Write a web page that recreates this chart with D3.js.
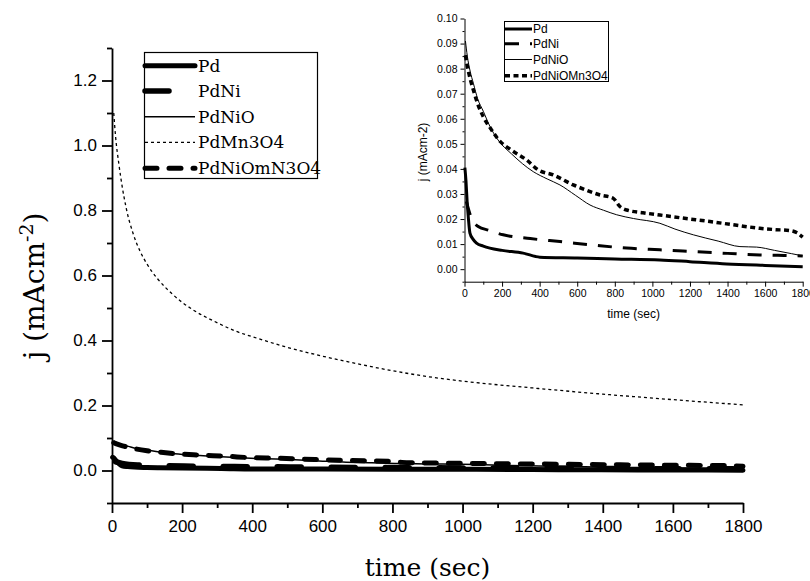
<!DOCTYPE html>
<html>
<head>
<meta charset="utf-8">
<script src="https://cdn.jsdelivr.net/npm/d3@7"></script>
<style>
  body { margin: 0; background: #fff; }
  svg { display: block; }
  .tick text { fill: #000; }
</style>
</head>
<body>
<div id="chart"></div>
<script>
// values
var mainLabels = ["Pd", "PdNi", "PdNiO", "PdMn3O4", "PdNiOmN3O4"];
var insetLabels = ["Pd", "PdNi", "PdNiO", "PdNiOMn3O4"];

var pdTime = [2, 8, 14, 20, 29, 45, 64, 100, 135, 200, 312, 401, 600, 800, 1040, 1200, 1395, 1600, 1800];
var pdJ = [0.0405, 0.035, 0.027, 0.021, 0.0144, 0.012, 0.0104, 0.0092, 0.0084, 0.0075, 0.0064, 0.0048, 0.0045, 0.0041, 0.0037, 0.003, 0.0021, 0.0015, 0.001];

var pdNiTime = [10, 29, 73, 130, 206, 350, 508, 700, 863, 1040, 1217, 1400, 1572, 1700, 1800];
var pdNiJ = [0.027, 0.022, 0.017, 0.0155, 0.0137, 0.0122, 0.011, 0.0095, 0.0084, 0.0077, 0.007, 0.0063, 0.0057, 0.0055, 0.0053];

var pdNiOTime = [5, 15, 30, 47, 70, 100, 135, 179, 250, 366, 440, 508, 590, 668, 740, 810, 900, 1040, 1120, 1218, 1350, 1466, 1555, 1650, 1740, 1800];
var pdNiOJ = [0.091, 0.085, 0.079, 0.0742, 0.068, 0.063, 0.057, 0.0515, 0.046, 0.0389, 0.036, 0.0336, 0.0295, 0.0256, 0.0235, 0.0217, 0.0202, 0.0183, 0.016, 0.0137, 0.0112, 0.009, 0.0088, 0.0075, 0.0062, 0.0053];

var pdNiOMnTime = [5, 15, 30, 47, 70, 100, 140, 182, 250, 330, 392, 472, 579, 650, 721, 791, 827, 863, 950, 1040, 1180, 1306, 1450, 1572, 1650, 1732, 1770, 1800];
var pdNiOMnJ = [0.0854, 0.081, 0.076, 0.0715, 0.066, 0.0608, 0.056, 0.0516, 0.0475, 0.0436, 0.0396, 0.0376, 0.0336, 0.0315, 0.0296, 0.0283, 0.025, 0.0236, 0.0225, 0.0216, 0.0202, 0.019, 0.0175, 0.0163, 0.0158, 0.0154, 0.0145, 0.0128];

var pdMnTime = [5, 10, 20, 40, 60, 80, 100, 130, 175, 230, 290, 350, 420, 490, 580, 680, 800, 900, 1000, 1200, 1400, 1600, 1800];
var pdMnJ = [1.10, 1.03, 0.94, 0.81, 0.73, 0.675, 0.635, 0.59, 0.54, 0.495, 0.46, 0.43, 0.405, 0.382, 0.357, 0.333, 0.307, 0.289, 0.275, 0.254, 0.235, 0.218, 0.202];

var mainXTicks = [0, 200, 400, 600, 800, 1000, 1200, 1400, 1600, 1800];
var mainYTicks = [0.0, 0.2, 0.4, 0.6, 0.8, 1.0, 1.2];
var insetXTicks = [0, 200, 400, 600, 800, 1000, 1200, 1400, 1600, 1800];
var insetYTicks = [0.00, 0.01, 0.02, 0.03, 0.04, 0.05, 0.06, 0.07, 0.08, 0.09, 0.10];

function zipSeries(times, values) {
  return times.map(function (t, i) {
    return { t: t, j: values[i] };
  });
}

var W = 810, H = 581;
var svg = d3.select("#chart").append("svg").attr("width", W).attr("height", H);

// ---- main plot ----
var mainStyles = [
  { width: 5, dash: null, cap: "round" },
  { width: 5.5, dash: "24,30", cap: "round" },
  { width: 1.5, dash: null, cap: "butt" },
  { width: 1.3, dash: "3,3", cap: "butt" },
  { width: 5, dash: "12,12", cap: "round" },
];
var mainData = [
  zipSeries(pdTime, pdJ),
  zipSeries(pdNiTime, pdNiJ),
  zipSeries(pdNiOTime, pdNiOJ),
  zipSeries(pdMnTime, pdMnJ),
  zipSeries(pdNiOMnTime, pdNiOMnJ),
];

var x = d3.scaleLinear().domain([0, 1800]).range([112, 743]);
var y = d3.scaleLinear().domain([-0.1, 1.3]).range([503, 48]);

var line = d3
  .line()
  .curve(d3.curveMonotoneX)
  .x(function (d) { return x(d.t); })
  .y(function (d) { return y(d.j); });

// minor ticks first, then labelled ones
svg.append("g")
  .attr("transform", "translate(0,503)")
  .call(d3.axisBottom(x).tickValues(d3.range(100, 1800, 200)).tickSize(5).tickFormat(""))
  .call(function (g) { g.select(".domain").remove(); })
  .selectAll("line").attr("stroke-width", 1.8);
var mainXAxis = svg.append("g")
  .attr("transform", "translate(0,503)")
  .call(d3.axisBottom(x).tickValues(mainXTicks).tickSize(10).tickPadding(7).tickSizeOuter(0).tickFormat(d3.format("d")));
mainXAxis.selectAll("text").attr("font-family", "Liberation Sans, Arial").attr("font-size", 17);

svg.append("g")
  .attr("transform", "translate(112,0)")
  .call(d3.axisLeft(y).tickValues([-0.1, 0.1, 0.3, 0.5, 0.7, 0.9, 1.1, 1.3]).tickSize(5).tickFormat(""))
  .call(function (g) { g.select(".domain").remove(); })
  .selectAll("line").attr("stroke-width", 1.8);
var mainYAxis = svg.append("g")
  .attr("transform", "translate(112,0)")
  .call(d3.axisLeft(y).tickValues(mainYTicks).tickSize(10).tickPadding(5).tickSizeOuter(0).tickFormat(d3.format(".1f")));
mainYAxis.selectAll("text").attr("font-family", "Liberation Sans, Arial").attr("font-size", 17);

[mainXAxis, mainYAxis].forEach(function (g) {
  g.select(".domain").attr("stroke-width", 1.8);
  g.selectAll(".tick line").attr("stroke-width", 1.8);
});

for (var i = 0; i < mainData.length; i++) {
  var st = mainStyles[i];
  svg.append("path")
    .datum(mainData[i])
    .attr("d", line)
    .attr("fill", "none")
    .attr("stroke", "#000")
    .attr("stroke-width", st.width)
    .attr("stroke-dasharray", st.dash)
    .attr("stroke-linecap", st.cap)
    .attr("stroke-linejoin", "round");
}

// axis titles
svg.append("text")
  .attr("x", 427.5)
  .attr("y", 576)
  .attr("text-anchor", "middle")
  .attr("font-family", "DejaVu Serif, serif")
  .attr("font-size", 25)
  .text("time (sec)");

var yTitle = svg.append("text")
  .attr("transform", "translate(44,286) rotate(-90)")
  .attr("text-anchor", "middle")
  .attr("font-family", "DejaVu Serif, serif")
  .attr("font-size", 28);
yTitle.append("tspan").text("j (mAcm");
yTitle.append("tspan").attr("font-size", 19).attr("dy", -11).text("-2");
yTitle.append("tspan").attr("dy", 11).text(")");

// main legend
var legend = svg.append("g");
legend.append("rect")
  .attr("x", 144.5).attr("y", 52.5).attr("width", 173).attr("height", 126)
  .attr("fill", "#fff").attr("stroke", "#000").attr("stroke-width", 1.2);
var legendRows = [65.7, 91, 116.7, 142.3, 168.3];
mainLabels.forEach(function (name, i) {
  var st = mainStyles[i];
  legend.append("line")
    .attr("x1", 145).attr("x2", 195)
    .attr("y1", legendRows[i]).attr("y2", legendRows[i])
    .attr("stroke", "#000")
    .attr("stroke-width", st.width)
    .attr("stroke-dasharray", st.dash)
    .attr("stroke-linecap", st.cap);
  legend.append("text")
    .attr("x", 198)
    .attr("y", legendRows[i] + 6)
    .attr("font-family", "DejaVu Serif, serif")
    .attr("font-size", 17)
    .text(name);
});

// ---- inset ----
var insetStyles = [
  { width: 3, dash: null },
  { width: 3, dash: "14,11" },
  { width: 1, dash: null },
  { width: 3.5, dash: "5,3.5" },
];
var insetData = [
  zipSeries(pdTime, pdJ),
  zipSeries(pdNiTime, pdNiJ),
  zipSeries(pdNiOTime, pdNiOJ),
  zipSeries(pdNiOMnTime, pdNiOMnJ),
];

var ix = d3.scaleLinear().domain([0, 1800]).range([464.5, 802.7]);
var iy = d3.scaleLinear().domain([-0.005, 0.10]).range([281.7, 18.5]);
var iline = d3
  .line()
  .curve(d3.curveMonotoneX)
  .x(function (d) { return ix(d.t); })
  .y(function (d) { return iy(d.j); });

svg.append("g")
  .attr("transform", "translate(0,281.7)")
  .call(d3.axisBottom(ix).tickValues(d3.range(100, 1800, 200)).tickSize(3).tickFormat(""))
  .call(function (g) { g.select(".domain").remove(); });
var insetXAxis = svg.append("g")
  .attr("transform", "translate(0,281.7)")
  .call(d3.axisBottom(ix).tickValues(insetXTicks).tickSize(5).tickPadding(3).tickSizeOuter(0).tickFormat(d3.format("d")));

svg.append("g")
  .attr("transform", "translate(464.5,0)")
  .call(d3.axisLeft(iy).tickValues(d3.range(-0.005, 0.1, 0.01)).tickSize(2).tickFormat(""))
  .call(function (g) { g.select(".domain").remove(); });
var insetYAxis = svg.append("g")
  .attr("transform", "translate(464.5,0)")
  .call(d3.axisLeft(iy).tickValues(insetYTicks).tickSize(4).tickPadding(3).tickSizeOuter(0).tickFormat(d3.format(".2f")));

[insetXAxis, insetYAxis].forEach(function (g) {
  g.selectAll("text").attr("font-family", "Liberation Sans, Arial").attr("font-size", 10.5);
});

for (var k = 0; k < insetData.length; k++) {
  svg.append("path")
    .datum(insetData[k])
    .attr("d", iline)
    .attr("fill", "none")
    .attr("stroke", "#000")
    .attr("stroke-width", insetStyles[k].width)
    .attr("stroke-dasharray", insetStyles[k].dash)
    .attr("stroke-linejoin", "round");
}

svg.append("text")
  .attr("x", 633.6)
  .attr("y", 318)
  .attr("text-anchor", "middle")
  .attr("font-family", "Liberation Sans, Arial")
  .attr("font-size", 12)
  .text("time (sec)");

svg.append("text")
  .attr("transform", "translate(427,152) rotate(-90)")
  .attr("text-anchor", "middle")
  .attr("font-family", "Liberation Sans, Arial")
  .attr("font-size", 12)
  .text("j (mAcm-2)");

var ilegend = svg.append("g");
ilegend.append("rect")
  .attr("x", 504.5).attr("y", 21.5).attr("width", 104).attr("height", 60)
  .attr("fill", "#fff").attr("stroke", "#000").attr("stroke-width", 1);
var ilegendRows = [29, 43.8, 59.5, 75.7];
insetLabels.forEach(function (name, i) {
  ilegend.append("line")
    .attr("x1", 505).attr("x2", 532)
    .attr("y1", ilegendRows[i]).attr("y2", ilegendRows[i])
    .attr("stroke", "#000")
    .attr("stroke-width", insetStyles[i].width)
    .attr("stroke-dasharray", insetStyles[i].dash);
  ilegend.append("text")
    .attr("x", 533)
    .attr("y", ilegendRows[i] + 4.3)
    .attr("font-family", "Liberation Sans, Arial")
    .attr("font-size", 12)
    .text(name);
});
</script>
</body>
</html>
